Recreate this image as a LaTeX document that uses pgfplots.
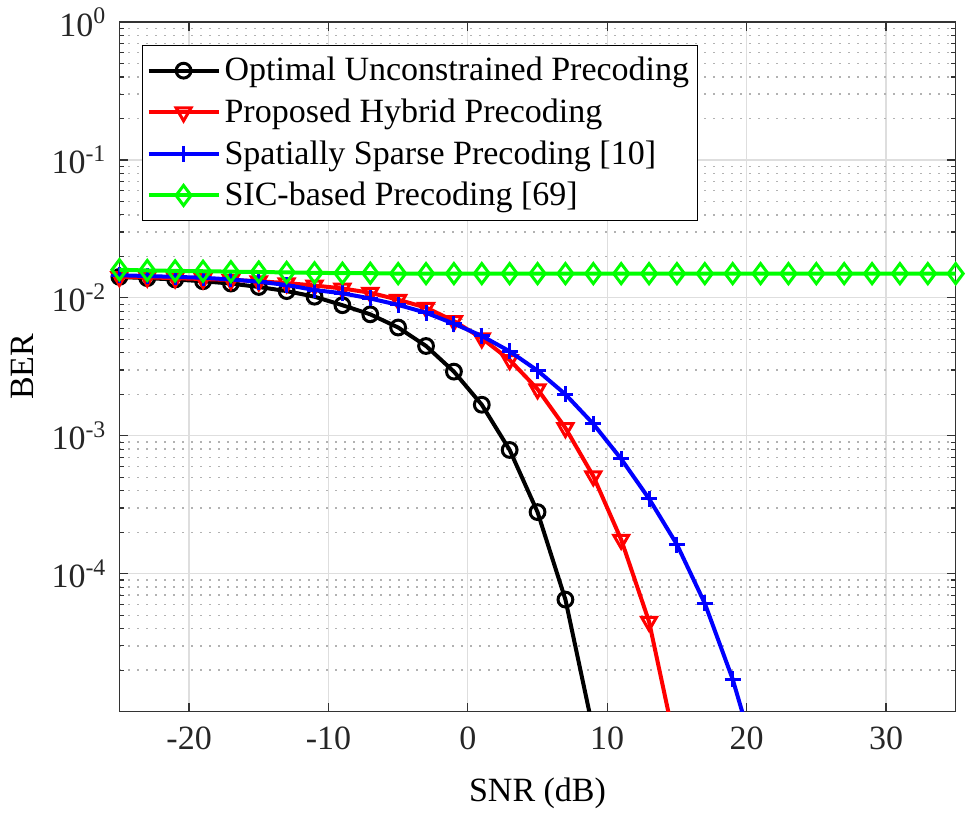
\documentclass[border=0pt]{standalone}
\usepackage{fontspec}
\setmainfont{Liberation Serif}
\usepackage{pgfplots}
\pgfplotsset{compat=1.18}
\newcommand{\ff}{\fontsize{17}{20}\selectfont}
\begin{document}
\begin{tikzpicture}
\begin{axis}[
  at={(0,0)}, anchor=south west,
  scale only axis, width=418.15pt, height=344.85pt,
  ymode=log, xmin=-25, xmax=35, ymin=1e-5, ymax=1,
  xtick={-20,-10,0,10,20,30},
  xticklabels={-20,-10,0,10,20,30},
  ytick={1e-4,1e-3,1e-2,1e-1,1},
  yticklabels={10\textsuperscript{-4},10\textsuperscript{-3},10\textsuperscript{-2},10\textsuperscript{-1},10\textsuperscript{0}},
  minor ytick={2e-5,3e-5,4e-5,5e-5,6e-5,7e-5,8e-5,9e-5,2e-4,3e-4,4e-4,5e-4,6e-4,7e-4,8e-4,9e-4,2e-3,3e-3,4e-3,5e-3,6e-3,7e-3,8e-3,9e-3,2e-2,3e-2,4e-2,5e-2,6e-2,7e-2,8e-2,9e-2,0.2,0.3,0.4,0.5,0.6,0.7,0.8,0.9},
  tick align=inside,
  major tick length=4.5pt, minor tick length=2.5pt,
  tick style={color=black!80, line width=0.6pt},
  axis line style={color=black!80, line width=0.75pt},
  xmajorgrids, ymajorgrids, yminorgrids,
  major grid style={color=black!13, line width=0.6pt},
  minor grid style={color=black!30, line width=0.7pt, dash pattern=on 0.7pt off 3.8pt},
  tick label style={font=\ff, color=black!85},
  xticklabel style={yshift=-4pt},
  yticklabel style={xshift=-3pt},
  xlabel={SNR (dB)}, ylabel={BER},
  label style={font=\ff},
  xlabel style={yshift=-7pt},
  ylabel style={yshift=2pt},
  clip mode=individual,
  legend style={at={(0.027,0.967)}, anchor=north west, draw=black, line width=0.6pt, fill=white, font=\ff, row sep=3.5pt, inner xsep=2pt, inner ysep=4pt, cells={anchor=west}},
  legend image code/.code={\draw[mark repeat=2,mark phase=2] plot coordinates {(0pt,0pt) (17.5pt,0pt) (35pt,0pt)};},
  every axis plot/.append style={line width=2pt},
]
\addplot[black, mark=o, mark size=3.7pt, mark options={line width=1.5pt}] coordinates {
(-25,0.0142) (-23,0.0139) (-21,0.0136) (-19,0.0132) (-17,0.0127) (-15,0.0120) (-13,0.0112) (-11,0.0102) (-9,0.00885) (-7,0.0076) (-5,0.0061) (-3,0.00448) (-1,0.00292) (1,0.00168) (3,7.9e-4) (5,2.8e-4) (7,6.5e-5) (9,7.3e-6)};
\addlegendentry{Optimal Unconstrained Precoding}
\addplot[red, mark=triangle, mark size=4.3pt, mark options={rotate=180, line width=1.5pt}] coordinates {
(-25,0.0142) (-23,0.0141) (-21,0.0139) (-19,0.0137) (-17,0.0135) (-15,0.0132) (-13,0.0128) (-11,0.0123) (-9,0.0117) (-7,0.0109) (-5,0.0097) (-3,0.0085) (-1,0.0068) (1,0.0051) (3,0.00355) (5,0.00218) (7,0.00114) (9,5.1e-4) (11,1.77e-4) (13,4.5e-5) (15,5.1e-6)};
\addlegendentry{Proposed Hybrid Precoding}
\addplot[blue, mark=+, mark size=4pt, mark options={line width=1.5pt}] coordinates {
(-25,0.0146) (-23,0.0144) (-21,0.0142) (-19,0.0140) (-17,0.0136) (-15,0.0131) (-13,0.0124) (-11,0.0114) (-9,0.0108) (-7,0.0099) (-5,0.0089) (-3,0.0078) (-1,0.0065) (1,0.0053) (3,0.0041) (5,0.00297) (7,0.0020) (9,0.00122) (11,6.8e-4) (13,3.5e-4) (15,1.63e-4) (17,6.1e-5) (19,1.72e-5) (21,3.5e-6)};
\addlegendentry{Spatially Sparse Precoding [10]}
\addplot[color={rgb,1:red,0;green,1;blue,0}, mark=diamond, mark size=5pt, mark options={line width=1.5pt}] coordinates {
(-25,0.0160) (-23,0.0158) (-21,0.0157) (-19,0.0156) (-17,0.0155) (-15,0.0154) (-13,0.0153) (-11,0.0152) (-9,0.0151) (-7,0.0151) (-5,0.0150) (-3,0.0150) (-1,0.0150) (1,0.0150) (3,0.0150) (5,0.0150) (7,0.0150) (9,0.0150) (11,0.0150) (13,0.0150) (15,0.0150) (17,0.0150) (19,0.0150) (21,0.0150) (23,0.0150) (25,0.0150) (27,0.0150) (29,0.0150) (31,0.0150) (33,0.0150) (35,0.0150)};
\addlegendentry{SIC-based Precoding [69]}
\end{axis}
\path[use as bounding box] (-59.7pt,-47.65pt) rectangle (423.3pt,355.85pt);
\end{tikzpicture}
\end{document}
